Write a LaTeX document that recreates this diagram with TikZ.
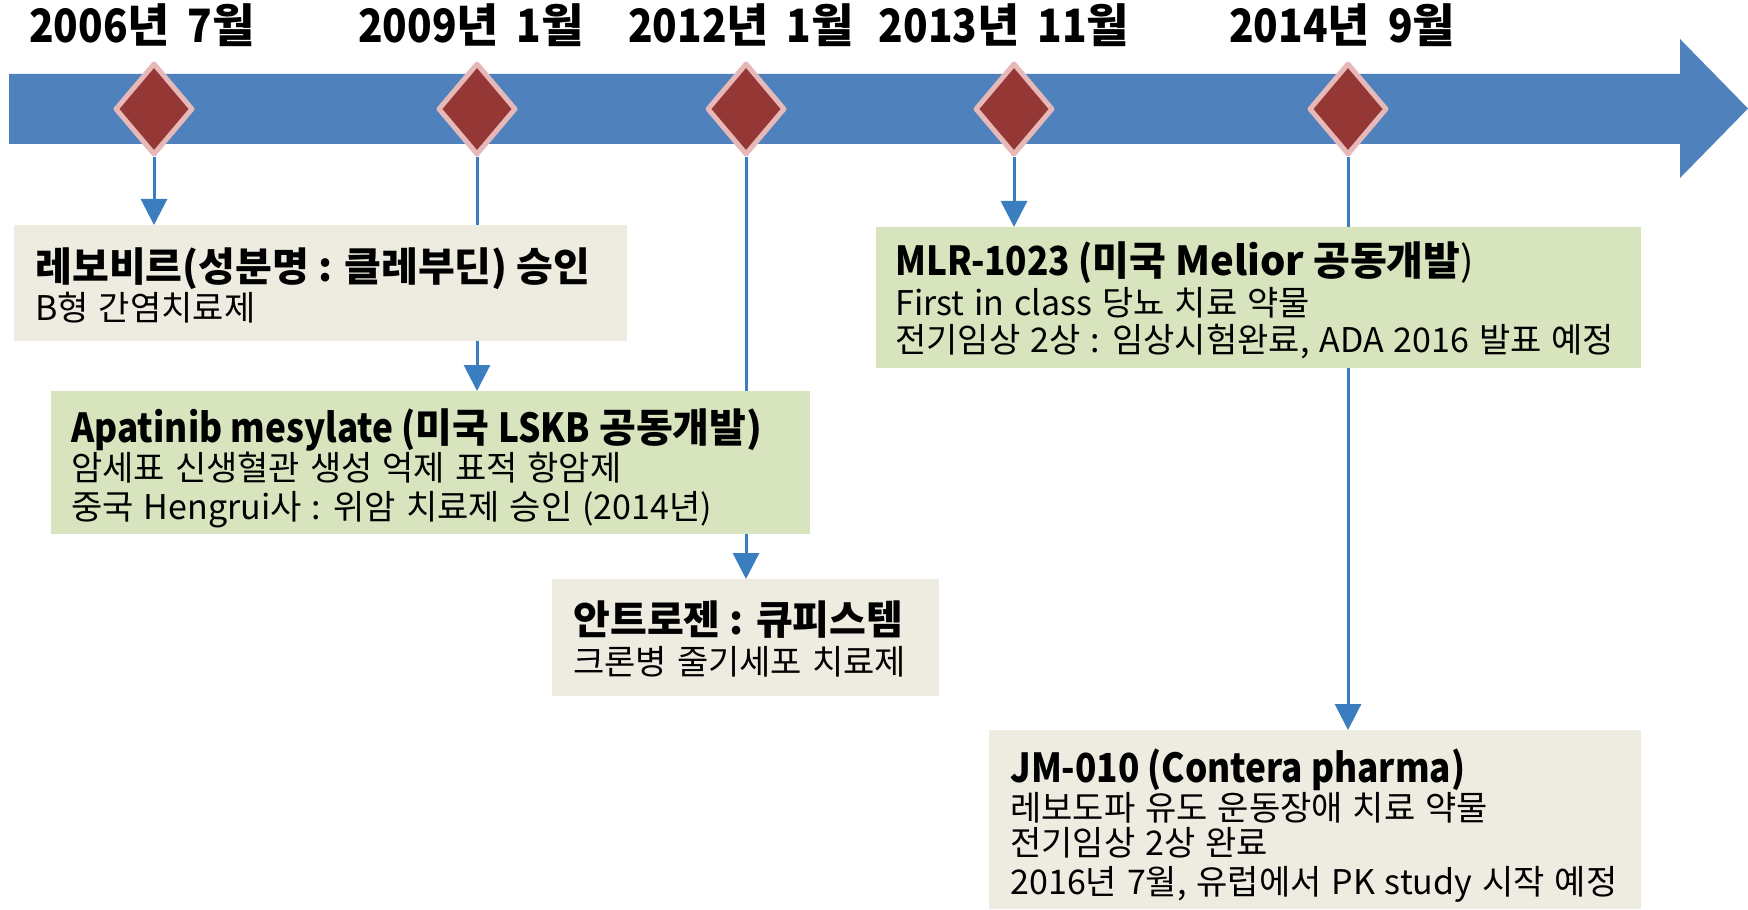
\documentclass[tikz,border=0pt]{standalone}
\usepackage{fontspec}
\setmainfont{Noto Sans CJK KR}
\newfontfamily\cond[FakeStretch=0.88]{Noto Sans CJK KR}
\newfontfamily\bodyf[WordSpace=1.3]{Noto Sans CJK KR}
\usetikzlibrary{shapes.geometric,arrows.meta}
\definecolor{barblue}{HTML}{4F81BD}
\definecolor{dmred}{HTML}{953735}
\definecolor{dmpink}{HTML}{E6B9B8}
\definecolor{beige}{HTML}{EEECE1}
\definecolor{lgreen}{HTML}{D7E4BD}
\definecolor{connblue}{HTML}{3A7EBF}
\pgfdeclarelayer{back}
\pgfsetlayers{back,main}
\newcommand{\dgap}{\hspace{9pt}}
\begin{document}
\begin{tikzpicture}[x=0.5pt,y=-0.5pt,
  datelbl/.style={font=\fontsize{23}{28}\selectfont\bfseries, anchor=base, inner sep=0},
  milestone/.style={diamond, draw=dmpink, fill=dmred, line width=2.5pt, minimum width=39pt, minimum height=46pt, inner sep=0, line join=round},
  beigebox/.style={rectangle, fill=beige, anchor=north west, inner sep=0},
  greenbox/.style={rectangle, fill=lgreen, anchor=north west, inner sep=0},
  ttl/.style={font=\fontsize{20}{24}\selectfont\bfseries, anchor=base west, inner sep=0},
  bodytxt/.style={font=\bodyf\fontsize{17}{20}\selectfont, anchor=base west, inner sep=0},
  conn/.style={draw=connblue, line width=1.5pt, -{Triangle[width=13pt,length=13pt]}}]
\useasboundingbox (0,0) rectangle (1748,909);
\begin{pgfonlayer}{back}
\fill[barblue] (9,74) -- (1680,74) -- (1680,39) -- (1748,108.5) -- (1680,178) -- (1680,144) -- (9,144) -- cycle;
\end{pgfonlayer}

% date labels
\node[datelbl] (t1) at (142,43) {{\cond 2006}년\dgap{\cond 7}월};
\node[datelbl] (t2) at (471,43) {{\cond 2009}년\dgap{\cond 1}월};
\node[datelbl] (t3) at (741,43) {{\cond 2012}년\dgap{\cond 1}월};
\node[datelbl] (t4) at (1004,43) {{\cond 2013}년\dgap{\cond 11}월};
\node[datelbl] (t5) at (1342,43) {{\cond 2014}년\dgap{\cond 9}월};

% milestones
\node[milestone] (d1) at (154,109) {};
\node[milestone] (d2) at (477,109) {};
\node[milestone] (d3) at (746,109) {};
\node[milestone] (d4) at (1014,109) {};
\node[milestone] (d5) at (1348,109) {};

% boxes
\node[beigebox, minimum width=306.5pt, minimum height=58pt] (b1) at (14,225) {};
\node[greenbox, minimum width=379.5pt, minimum height=71.5pt] (b2) at (51,391) {};
\node[beigebox, minimum width=193.5pt, minimum height=58.5pt] (b3) at (552,579) {};
\node[greenbox, minimum width=382.5pt, minimum height=70.5pt] (b4) at (876,227) {};
\node[beigebox, minimum width=326pt, minimum height=89.5pt] (b5) at (989,730) {};

% connectors
\begin{pgfonlayer}{back}
\draw[conn] (d1.south) -- (d1.south |- b1.north);
\draw[conn] (d2.south) -- (d2.south |- b2.north);
\draw[conn] (d3.south) -- (d3.south |- b3.north);
\draw[conn] (d4.south) -- (d4.south |- b4.north);
\draw[conn] (d5.south) -- (d5.south |- b5.north);
\end{pgfonlayer}

% box texts
\node[ttl] (b1a) at (35,281) {레보비르(성분명 : 클레부딘) 승인};
\node[bodytxt] (b1b) at (35,320) {B형 간염치료제};

\node[ttl] (b2a) at (71,442) {{\cond Apatinib mesylate (}미국 {\cond LSKB} 공동개발)};
\node[bodytxt] (b2b) at (71,480) {암세표 신생혈관 생성 억제 표적 항암제};
\node[bodytxt] (b2c) at (71,519) {중국 Hengrui사 : 위암 치료제 승인 (2014년)};

\node[ttl] (b3a) at (573,634) {안트로젠 : 큐피스템};
\node[bodytxt] (b3b) at (573,674) {크론병 줄기세포 치료제};

\node[ttl] (b4a) at (895,275) {{\cond MLR-1023 (}미국 Melior 공동개발\mdseries)};
\node[bodytxt] (b4b) at (895,315) {First in class 당뇨 치료 약물};
\node[bodytxt] (b4c) at (895,352) {전기임상 2상 : 임상시험완료, ADA 2016 발표 예정};

\node[ttl] (b5a) at (1010,782) {{\cond JM-010 (Contera pharma)}};
\node[bodytxt] (b5b) at (1010,820) {레보도파 유도 운동장애 치료 약물};
\node[bodytxt] (b5c) at (1010,855) {전기임상 2상 완료};
\node[bodytxt] (b5d) at (1010,894) {2016년 7월, 유럽에서 PK study 시작 예정};
\end{tikzpicture}
\end{document}
